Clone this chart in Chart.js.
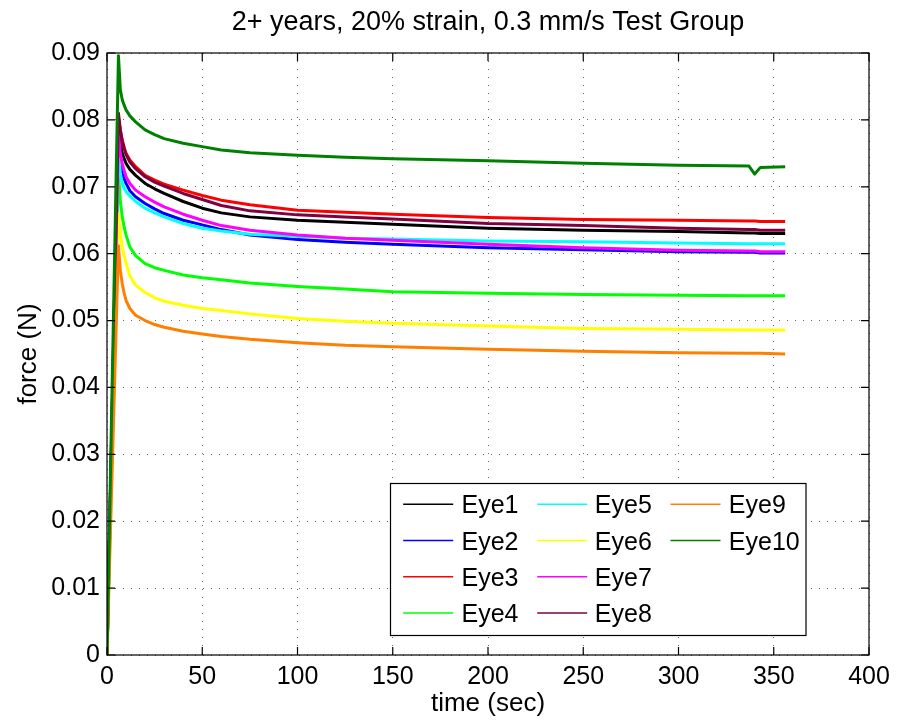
<!DOCTYPE html>
<html>
<head>
<meta charset="utf-8">
<script src="https://cdn.jsdelivr.net/npm/chart.js@4.4.1/dist/chart.umd.min.js"></script>
<style>
html,body{margin:0;padding:0;background:#fff;}
#wrap{width:898px;height:723px;}
</style>
</head>
<body>
<div id="wrap"><canvas id="c" width="898" height="723"></canvas></div>
<script>
// ---------- data ----------
const titleText = '2+ years, 20% strain, 0.3 mm/s Test Group';
const xTitle = 'time (sec)';
const yTitle = 'force (N)';
const xTickValues = [0, 50, 100, 150, 200, 250, 300, 350, 400];
const yTickValues = [0, 0.01, 0.02, 0.03, 0.04, 0.05, 0.06, 0.07, 0.08, 0.09];
const yTickLabels = ['0', '0.01', '0.02', '0.03', '0.04', '0.05', '0.06', '0.07', '0.08', '0.09'];

const seriesLabels = ['Eye1', 'Eye2', 'Eye3', 'Eye4', 'Eye5', 'Eye6', 'Eye7', 'Eye8', 'Eye9', 'Eye10'];

const timeSec = [0, 6, 7, 8, 9, 10, 12, 15, 20, 25, 30, 40, 50, 60, 75, 100, 125, 150, 200, 250, 300, 337, 340, 343, 356];

const eye1  = [0, 0.0790, 0.0765, 0.0750, 0.0742, 0.0735, 0.0726, 0.0717, 0.0705, 0.0697, 0.0690, 0.0678, 0.0668, 0.0661, 0.0655, 0.0650, 0.0647, 0.0644, 0.0638, 0.0635, 0.0633, 0.0631, 0.0631, 0.0630, 0.0630];
const eye2  = [0, 0.0765, 0.0735, 0.0720, 0.0712, 0.0705, 0.0694, 0.0685, 0.0675, 0.0667, 0.0660, 0.0650, 0.0643, 0.0636, 0.0628, 0.0621, 0.0617, 0.0614, 0.0609, 0.0606, 0.0603, 0.0602, 0.0602, 0.0601, 0.0601];
const eye3  = [0, 0.0805, 0.0785, 0.0770, 0.0759, 0.0750, 0.0740, 0.0730, 0.0717, 0.0710, 0.0704, 0.0695, 0.0687, 0.0680, 0.0673, 0.0665, 0.0662, 0.0659, 0.0654, 0.0651, 0.0650, 0.0649, 0.0649, 0.0648, 0.0648];
const eye4  = [0, 0.0720, 0.0680, 0.0655, 0.0640, 0.0628, 0.0610, 0.0597, 0.0585, 0.0579, 0.0575, 0.0568, 0.0564, 0.0561, 0.0556, 0.0551, 0.0547, 0.0543, 0.0541, 0.0539, 0.0538, 0.0537, 0.0537, 0.0537, 0.0537];
const eye5  = [0, 0.0755, 0.0720, 0.0705, 0.0698, 0.0693, 0.0686, 0.0678, 0.0668, 0.0661, 0.0655, 0.0645, 0.0638, 0.0634, 0.0629, 0.0626, 0.0623, 0.0622, 0.0619, 0.0618, 0.0616, 0.0615, 0.0615, 0.0615, 0.0615];
const eye6  = [0, 0.0660, 0.0630, 0.0610, 0.0597, 0.0586, 0.0567, 0.0553, 0.0542, 0.0534, 0.0529, 0.0523, 0.0518, 0.0515, 0.0510, 0.0503, 0.0499, 0.0496, 0.0492, 0.0488, 0.0487, 0.0486, 0.0486, 0.0486, 0.0486];
const eye7  = [0, 0.0780, 0.0750, 0.0735, 0.0724, 0.0715, 0.0705, 0.0695, 0.0685, 0.0677, 0.0670, 0.0659, 0.0650, 0.0642, 0.0635, 0.0628, 0.0623, 0.0620, 0.0614, 0.0609, 0.0605, 0.0604, 0.0604, 0.0603, 0.0603];
const eye8  = [0, 0.0810, 0.0785, 0.0768, 0.0757, 0.0748, 0.0737, 0.0727, 0.0715, 0.0707, 0.0701, 0.0690, 0.0681, 0.0672, 0.0664, 0.0658, 0.0655, 0.0652, 0.0645, 0.0642, 0.0638, 0.0636, 0.0636, 0.0635, 0.0635];
const eye9  = [0, 0.0612, 0.0575, 0.0555, 0.0541, 0.0530, 0.0518, 0.0508, 0.0500, 0.0494, 0.0490, 0.0484, 0.0480, 0.0476, 0.0472, 0.0467, 0.0463, 0.0461, 0.0457, 0.0454, 0.0452, 0.0451, 0.0451, 0.0451, 0.0450];
const eye10 = [0, 0.0896, 0.0845, 0.0830, 0.0822, 0.0815, 0.0806, 0.0797, 0.0785, 0.0778, 0.0772, 0.0765, 0.0760, 0.0755, 0.0751, 0.0747, 0.0744, 0.0742, 0.0739, 0.0735, 0.0732, 0.0731, 0.0719, 0.0729, 0.0730];

const seriesValues = [eye1, eye2, eye3, eye4, eye5, eye6, eye7, eye8, eye9, eye10];
const seriesColors = ['#000000', '#0000ff', '#ff0000', '#00ff00', '#00ffff', '#ffff00', '#ff00ff', '#800040', '#ff8000', '#008000'];

// ---------- chart ----------
const FONT = "'Liberation Sans', Arial, Helvetica, sans-serif";

const datasets = seriesLabels.map((name, i) => ({
  label: name,
  data: timeSec.map((t, k) => ({ x: t, y: seriesValues[i][k] })),
  borderColor: seriesColors[i],
  backgroundColor: seriesColors[i],
  borderWidth: 3,
  borderJoinStyle: 'round',
  pointRadius: 0,
  fill: false,
  tension: 0,
  order: seriesLabels.length - i
}));

const framePlugin = {
  id: 'matlabFrame',
  afterDatasetsDraw(chart) {
    const { ctx, chartArea: a, scales } = chart;
    const xs = scales.x, ys = scales.y;
    ctx.save();
    ctx.strokeStyle = '#000';
    ctx.lineWidth = 1.2;
    ctx.strokeRect(a.left, a.top, a.right - a.left, a.bottom - a.top);
    const L = 8;
    ctx.beginPath();
    xs.ticks.forEach(t => {
      const p = xs.getPixelForValue(t.value);
      ctx.moveTo(p, a.bottom); ctx.lineTo(p, a.bottom - L);
      ctx.moveTo(p, a.top); ctx.lineTo(p, a.top + L);
    });
    ys.ticks.forEach(t => {
      const p = ys.getPixelForValue(t.value);
      ctx.moveTo(a.left, p); ctx.lineTo(a.left + L, p);
      ctx.moveTo(a.right, p); ctx.lineTo(a.right - L, p);
    });
    ctx.stroke();
    ctx.restore();
  },
  afterDraw(chart) {
    const { ctx, chartArea: a } = chart;
    const bx = a.left + 283.5, by = a.top + 430.5;
    const bw = 415.5, bh = 152;
    ctx.save();
    ctx.fillStyle = '#fff';
    ctx.fillRect(bx, by, bw, bh);
    ctx.strokeStyle = '#000';
    ctx.lineWidth = 1.2;
    ctx.strokeRect(bx, by, bw, bh);
    const colLine = [12.7, 146.7, 280];
    const colText = [71, 204.3, 338.3];
    const rowY0 = 20.8, rowStep = 36.2;
    ctx.font = '25px ' + FONT;
    ctx.textBaseline = 'alphabetic';
    ctx.textAlign = 'left';
    chart.data.datasets.forEach((ds, i) => {
      const col = Math.floor(i / 4), row = i % 4;
      const ly = by + rowY0 + row * rowStep;
      ctx.strokeStyle = ds.borderColor;
      ctx.lineWidth = 1.5;
      ctx.beginPath();
      ctx.moveTo(bx + colLine[col], ly);
      ctx.lineTo(bx + colLine[col] + 50, ly);
      ctx.stroke();
      ctx.fillStyle = '#000';
      ctx.fillText(ds.label, bx + colText[col], ly + 9);
    });
    ctx.restore();
  }
};

new Chart(document.getElementById('c'), {
  type: 'line',
  data: { datasets },
  plugins: [framePlugin],
  options: {
    responsive: false,
    animation: false,
    events: [],
    layout: { padding: { left: 0, right: 29, top: 0, bottom: 0 } },
    plugins: {
      legend: { display: false },
      tooltip: { enabled: false },
      title: {
        display: true,
        text: titleText,
        fullSize: false,
        color: '#000',
        font: { family: FONT, size: 27, weight: 'normal', lineHeight: 1.2 },
        padding: { top: 6, bottom: 14.6 }
      }
    },
    scales: {
      x: {
        type: 'linear',
        min: 0, max: 400,
        afterBuildTicks: s => { s.ticks = xTickValues.map(v => ({ value: v })); },
        afterFit: s => { s.height = 68; },
        ticks: {
          color: '#000', padding: 7.5, maxRotation: 0, autoSkip: false,
          font: { family: FONT, size: 25 },
          callback: v => String(v)
        },
        grid: { color: 'rgba(0,0,0,0.6)', lineWidth: 1, drawTicks: false },
        border: { display: false, dash: [1, 7] },
        title: {
          display: true, text: xTitle, color: '#000',
          font: { family: FONT, size: 26, lineHeight: 1.2 },
          padding: { top: 0, bottom: 4 }
        }
      },
      y: {
        type: 'linear',
        min: 0, max: 0.09,
        afterBuildTicks: s => { s.ticks = yTickValues.map(v => ({ value: v })); },
        afterFit: s => { s.width = 107; },
        ticks: {
          color: '#000', padding: 7, autoSkip: false,
          font: { family: FONT, size: 25 },
          callback: (v, i) => yTickLabels[i]
        },
        grid: { color: 'rgba(0,0,0,0.6)', lineWidth: 1, drawTicks: false },
        border: { display: false, dash: [1, 7] },
        title: {
          display: true, text: yTitle, color: '#000',
          font: { family: FONT, size: 26, lineHeight: 1.2 },
          padding: { top: 13, bottom: 0 }
        }
      }
    }
  }
});
</script>
</body>
</html>
